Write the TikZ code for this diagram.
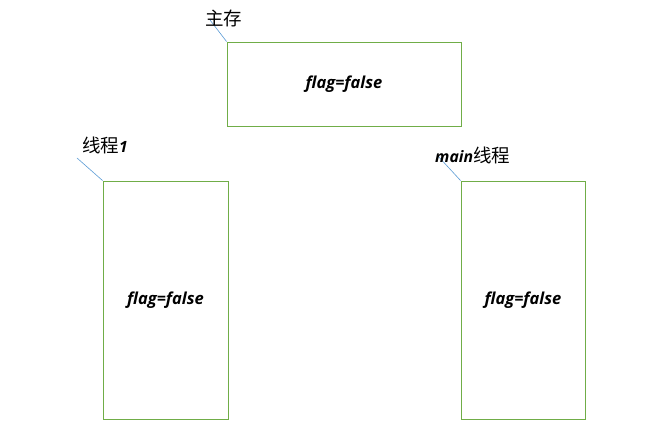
\documentclass[tikz,border=0pt]{standalone}
\usepackage{fontspec}
\setmainfont{Open Sans}
\newfontfamily\cjk{Noto Sans CJK SC}
\definecolor{boxgreen}{RGB}{112,173,71}
\definecolor{callblue}{RGB}{91,155,213}
\begin{document}
\begin{tikzpicture}[x=1pt,y=-1pt,
  memorybox/.style={draw=boxgreen, line width=0.8pt, inner sep=0pt, font=\fontsize{16.5}{19}\selectfont\bfseries\itshape},
  calloutline/.style={draw=callblue, line width=0.6pt},
  calltext/.style={font=\fontsize{18.5}{20}\selectfont, inner sep=0pt}]
\useasboundingbox (0,0) rectangle (662,435);
\node[memorybox, minimum width=234pt, minimum height=84pt] (mem) at (344,84) {\raisebox{-2pt}{flag=false}};
\node[memorybox, minimum width=125pt, minimum height=238pt] (t1) at (165.5,300) {\raisebox{-2pt}{flag=false}};
\node[memorybox, minimum width=124pt, minimum height=238pt] (tm) at (523,300) {\raisebox{-2pt}{flag=false}};
\coordinate (cmem) at (210,20);
\coordinate (ct1) at (77,158);
\coordinate (ctm) at (437,155);
\draw[calloutline] (mem.north west) -- (cmem);
\draw[calloutline] (t1.north west) -- (ct1);
\draw[calloutline] (tm.north west) -- (ctm);
\node[calltext, anchor=west] (lmem) at (205,18) {\cjk 主存};
\node[calltext, anchor=west] (lt1) at (82,145) {\cjk 线程{\fontsize{15.5}{17}\rmfamily\bfseries\itshape 1}};
\node[calltext, anchor=west] (ltm) at (435,155) {{\fontsize{15.8}{17}\rmfamily\bfseries\itshape main}\cjk 线程};
\end{tikzpicture}
\end{document}
